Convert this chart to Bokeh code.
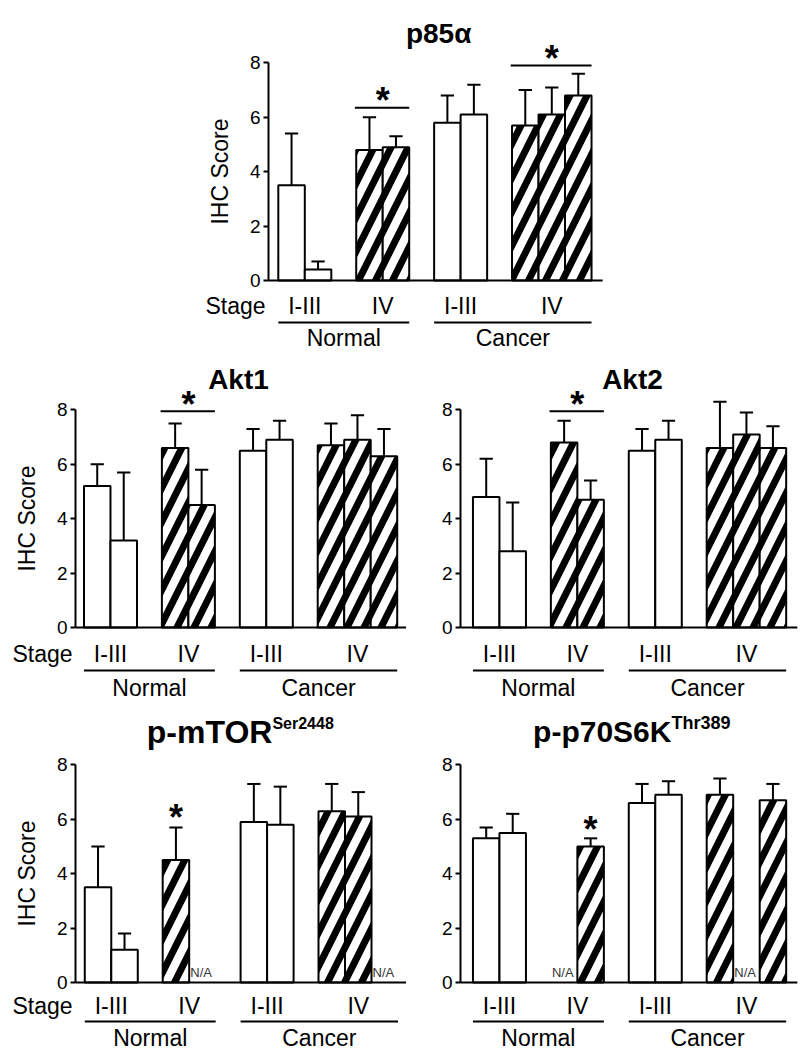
from bokeh.plotting import figure
from bokeh.models import Range1d, FixedTicker, Spacer, ColumnDataSource
from bokeh.layouts import column, row
from bokeh.embed import file_html
from bokeh.resources import INLINE
from bokeh.core.properties import value

FONT = "Liberation Sans"

# ---------------- data ----------------
stage_labels = ["I-III", "IV", "I-III", "IV"]
tissue_labels = ["Normal", "Cancer"]
slots_per_group = [2, 2, 2, 3]
hatched_groups = [False, True, False, True]

titles = ["p85α", "Akt1", "Akt2", "p-mTOR", "p-p70S6K"]
title_sups = ["", "", "", "Ser2448", "Thr389"]

p85_mean = [3.5, 0.4, 4.8, 4.9, 5.8, 6.1, 5.7, 6.1, 6.8]
p85_sd = [1.9, 0.3, 1.2, 0.4, 1.0, 1.1, 1.3, 1.0, 0.8]
p85_brackets = [(1, 6.35), (3, 7.9)]
p85_bar_stars = []

akt1_mean = [5.2, 3.2, 6.6, 4.5, 6.5, 6.9, 6.7, 6.9, 6.3]
akt1_sd = [0.8, 2.5, 0.9, 1.3, 0.8, 0.7, 0.8, 0.9, 1.0]
akt1_brackets = [(1, 7.95)]
akt1_bar_stars = []

akt2_mean = [4.8, 2.8, 6.8, 4.7, 6.5, 6.9, 6.6, 7.1, 6.6]
akt2_sd = [1.4, 1.8, 0.8, 0.7, 0.8, 0.7, 1.7, 0.8, 0.8]
akt2_brackets = [(1, 7.95)]
akt2_bar_stars = []

mtor_mean = [3.5, 1.2, 4.5, None, 5.9, 5.8, 6.3, 6.1, None]
mtor_sd = [1.5, 0.6, 1.2, None, 1.4, 1.4, 1.0, 0.9, None]
mtor_brackets = []
mtor_bar_stars = [(2, 6.28)]

p70_mean = [5.3, 5.5, None, 5.0, 6.6, 6.9, 6.9, None, 6.7]
p70_sd = [0.4, 0.7, None, 0.3, 0.7, 0.5, 0.6, None, 0.6]
p70_brackets = []
p70_bar_stars = [(3, 5.85)]

y_ticks = [0, 2, 4, 6, 8]
y_label = "IHC Score"
stage_word = "Stage"
na_text = "N/A"

# ---------------- layout ----------------
PX_X = 26.5
PX_Y = 27.2
GAP = 0.94
STAR_FS = 36
STAR_INK = 6.0  # px the ink centre of "*" sits above its middle anchor


def make_panel(title, sup, means, sds, brackets, bar_stars, lay):
    w, h, left, y0 = lay["w"], lay["h"], lay["left"], lay["y0"]
    p = figure(width=w, height=h,
               x_range=Range1d(-left / PX_X, (w - left) / PX_X),
               y_range=Range1d(-(h - y0) / PX_Y, y0 / PX_Y),
               x_axis_location=None, y_axis_location="left", toolbar_location=None,
               output_backend="svg", min_border=0)
    p.min_border_left = 0
    p.min_border_right = 0
    p.min_border_top = 0
    p.min_border_bottom = 0
    p.outline_line_color = None
    p.background_fill_color = "white"
    p.border_fill_color = "white"
    p.grid.visible = False

    # slots
    xs, gb, starts = [], [], []
    x = lay["offset"]
    for n in slots_per_group:
        s = x
        for _ in range(n):
            starts.append(x)
            xs.append(x + 0.5)
            x += 1
        gb.append((s, x))
        x += GAP
    group_of_slot = [gi for gi, n in enumerate(slots_per_group) for _ in range(n)]

    idx = [i for i, m in enumerate(means) if m is not None]
    src = ColumnDataSource(dict(
        x=[xs[i] for i in idx],
        top=[means[i] for i in idx],
        err=[means[i] + sds[i] for i in idx],
        cl=[xs[i] - 0.25 for i in idx],
        cr=[xs[i] + 0.25 for i in idx],
        hatch=["/" if hatched_groups[group_of_slot[i]] else " " for i in idx],
    ))
    p.vbar(x="x", top="top", bottom=0, width=1, source=src, fill_color="white",
           line_color="black", line_width=2, hatch_pattern="hatch", hatch_color="black",
           hatch_weight=7, hatch_scale=34)
    p.segment(x0="x", y0="top", x1="x", y1="err", source=src, line_color="black", line_width=2)
    p.segment(x0="cl", y0="err", x1="cr", y1="err", source=src, line_color="black", line_width=2)

    # baseline
    p.segment(x0=[0], y0=[0], x1=[gb[-1][1] + 0.42], y1=[0], line_color="black", line_width=2)

    # N/A
    na_x = [starts[i] + 0.04 for i, m in enumerate(means) if m is None]
    if na_x:
        p.text(x=na_x, y=[10 / PX_Y] * len(na_x), text=[na_text] * len(na_x),
               text_font=value(FONT), text_font_size="13px", text_color="#333333",
               text_align="left", text_baseline="middle")

    # stage labels
    ys = -lay["stage_px"] / PX_Y
    p.text(x=[(a + b) / 2 for a, b in gb], y=[ys] * 4, text=stage_labels,
           text_font=value(FONT), text_font_size="23px", text_color="black",
           text_align="center", text_baseline="middle")
    yl = -lay["line_px"] / PX_Y
    p.segment(x0=[gb[0][0], gb[2][0]], y0=[yl, yl], x1=[gb[1][1], gb[3][1]], y1=[yl, yl],
              line_color="black", line_width=2)
    yt = -lay["tissue_px"] / PX_Y
    p.text(x=[(gb[0][0] + gb[1][1]) / 2, (gb[2][0] + gb[3][1]) / 2], y=[yt, yt], text=tissue_labels,
           text_font=value(FONT), text_font_size="23px", text_color="black",
           text_align="center", text_baseline="middle")
    if lay["ylabel"]:
        p.text(x=[-3 / PX_X], y=[ys], text=[stage_word], text_font=value(FONT),
               text_font_size="23px", text_color="black", text_align="right",
               text_baseline="middle")

    # significance
    for g, lvl in brackets:
        p.segment(x0=[gb[g][0] - 0.05], y0=[lvl], x1=[gb[g][1]], y1=[lvl], line_color="black", line_width=2)
        p.text(x=[(gb[g][0] + gb[g][1]) / 2], y=[lvl + (13 - STAR_INK) / PX_Y], text=["*"],
               text_font=value(FONT), text_font_size=f"{STAR_FS}px", text_font_style="bold",
               text_align="center", text_baseline="middle")
    for s, lvl in bar_stars:
        p.text(x=[xs[s]], y=[lvl - STAR_INK / PX_Y], text=["*"],
               text_font=value(FONT), text_font_size=f"{STAR_FS}px", text_font_style="bold",
               text_align="center", text_baseline="middle")

    # title
    tc = lay["title_c"]
    if sup:
        p.text(x=[lay["title_x"]], y=[tc], text=[title], text_font=value(FONT),
               text_font_size=lay["title_fs"], text_font_style="bold", text_align="right",
               text_baseline="middle")
        p.text(x=[lay["title_x"]], y=[tc + 8 / PX_Y], text=[sup], text_font=value(FONT),
               text_font_size=lay["sup_fs"], text_font_style="bold", text_align="left",
               text_baseline="middle")
    else:
        p.text(x=[lay["title_x"]], y=[tc], text=[title], text_font=value(FONT),
               text_font_size=lay["title_fs"], text_font_style="bold", text_align="center",
               text_baseline="middle")

    # y axis, pinned at x = 0
    ax = p.yaxis[0]
    ax.fixed_location = 0
    ax.ticker = FixedTicker(ticks=y_ticks)
    ax.bounds = (0, 8)
    ax.axis_line_width = 2
    ax.axis_line_color = "black"
    ax.major_tick_line_width = 2
    ax.major_tick_line_color = "black"
    ax.major_tick_out = 5
    ax.major_tick_in = 0
    ax.minor_tick_line_color = None
    ax.major_label_text_font = FONT
    ax.major_label_text_font_size = "19px"
    ax.major_label_text_color = "black"
    ax.major_label_standoff = 3
    if lay["ylabel"]:
        ax.axis_label = y_label
        ax.axis_label_text_font = FONT
        ax.axis_label_text_font_size = "23px"
        ax.axis_label_text_font_style = "normal"
        ax.axis_label_text_color = "black"
        ax.axis_label_standoff = 14
    return p


lay_top = dict(w=420, h=350, left=68, y0=280, offset=0.37, stage_px=25, line_px=42, tissue_px=57,
               title_x=6.42, title_c=9.08, title_fs="28px", sup_fs="17px", ylabel=True)
lay_akt1 = dict(w=406, h=350, left=75, y0=277, offset=0.32, stage_px=26, line_px=43, tissue_px=60,
                title_x=6.15, title_c=9.12, title_fs="28px", sup_fs="17px", ylabel=True)
lay_akt2 = dict(w=401, h=350, left=54, y0=277, offset=0.47, stage_px=26, line_px=43, tissue_px=60,
                title_x=6.49, title_c=9.12, title_fs="28px", sup_fs="17px", ylabel=False)
lay_mtor = dict(w=406, h=350, left=75, y0=282, offset=0.35, stage_px=23, line_px=39, tissue_px=55,
                title_x=7.43, title_c=9.21, title_fs="32px", sup_fs="16px", ylabel=True)
lay_p70 = dict(w=401, h=350, left=54, y0=282, offset=0.47, stage_px=23, line_px=39, tissue_px=55,
               title_x=7.96, title_c=9.23, title_fs="30px", sup_fs="18px", ylabel=False)

p1 = make_panel(titles[0], title_sups[0], p85_mean, p85_sd, p85_brackets, p85_bar_stars, lay_top)
p2 = make_panel(titles[1], title_sups[1], akt1_mean, akt1_sd, akt1_brackets, akt1_bar_stars, lay_akt1)
p3 = make_panel(titles[2], title_sups[2], akt2_mean, akt2_sd, akt2_brackets, akt2_bar_stars, lay_akt2)
p4 = make_panel(titles[3], title_sups[3], mtor_mean, mtor_sd, mtor_brackets, mtor_bar_stars, lay_mtor)
p5 = make_panel(titles[4], title_sups[4], p70_mean, p70_sd, p70_brackets, p70_bar_stars, lay_p70)

layout = column(
    row(Spacer(width=200, height=350), p1),
    row(p2, p3),
    row(p4, p5),
)

open("out.html", "w").write(file_html(layout, INLINE))
